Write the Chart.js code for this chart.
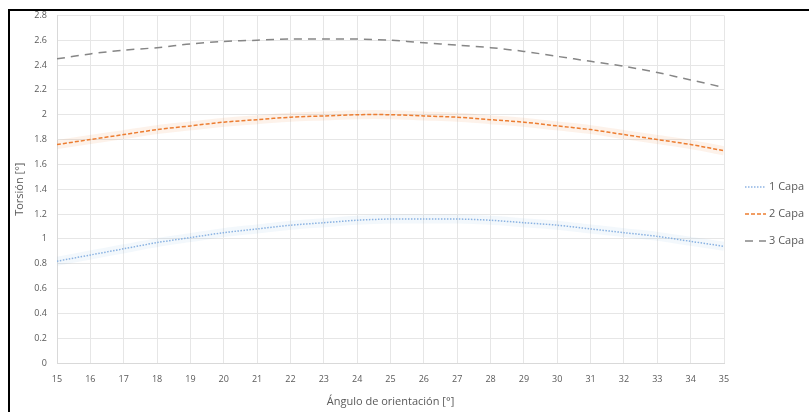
<!DOCTYPE html>
<html>
<head>
<meta charset="utf-8">
<script src="https://cdn.jsdelivr.net/npm/chart.js@4.4.1/dist/chart.umd.min.js"></script>
<style>
  html, body { margin: 0; padding: 0; background: #fff; overflow: hidden; }
  #wrap { position: relative; width: 809px; height: 412px; }
  #frame {
    position: absolute; left: 8px; top: 9px; width: 820px; height: 420px;
    border-left: 2px solid #000; border-top: 2px solid #000; pointer-events: none;
  }
</style>
</head>
<body>
<div id="wrap">
  <canvas id="torsionChart" width="809" height="412"></canvas>
  <div id="frame"></div>
</div>
<script>
// angle of orientation [deg]
const angles = [15, 16, 17, 18, 19, 20, 21, 22, 23, 24, 25, 26, 27, 28, 29, 30, 31, 32, 33, 34, 35];

// torsion [deg] per number of layers
const capa1 = [0.82, 0.87, 0.92, 0.97, 1.01, 1.05, 1.08, 1.11, 1.13, 1.15, 1.16, 1.16, 1.16, 1.15, 1.13, 1.11, 1.08, 1.05, 1.02, 0.98, 0.94];
const capa2 = [1.76, 1.80, 1.84, 1.88, 1.91, 1.94, 1.96, 1.98, 1.99, 2.00, 2.00, 1.99, 1.98, 1.96, 1.94, 1.91, 1.88, 1.84, 1.80, 1.76, 1.71];
const capa3 = [2.45, 2.49, 2.52, 2.54, 2.57, 2.59, 2.60, 2.61, 2.61, 2.61, 2.60, 2.58, 2.56, 2.54, 2.51, 2.47, 2.43, 2.39, 2.34, 2.28, 2.22];

const seriesLabels = ['1 Capa', '2 Capa', '3 Capa'];

const toPoints = (vals) => vals.map((v, i) => ({ x: angles[i], y: v }));

const textColor = '#595959';
const gridColor = '#e6e6e6';

// legend drawn on the right, next to the plot
const sideLegend = {
  id: 'sideLegend',
  afterDraw(chart) {
    const ctx = chart.ctx;
    const area = chart.chartArea;
    const items = chart.data.datasets.filter(d => !d.glow);
    const x0 = area.right + 21;
    const yMid = 214;
    ctx.save();
    ctx.font = '11px "Open Sans", sans-serif';
    ctx.textBaseline = 'middle';
    items.forEach((d, i) => {
      const y = yMid + (i - 1) * 27;
      ctx.strokeStyle = d.borderColor;
      ctx.lineWidth = d.borderWidth;
      ctx.setLineDash(d.borderDash || []);
      ctx.beginPath();
      ctx.moveTo(x0, y);
      ctx.lineTo(x0 + 21, y);
      ctx.stroke();
      ctx.setLineDash([]);
      ctx.fillStyle = textColor;
      ctx.fillText(d.label, x0 + 24, y);
    });
    ctx.restore();
  }
};

const ctx = document.getElementById('torsionChart').getContext('2d');

new Chart(ctx, {
  type: 'line',
  data: {
    datasets: [
      {
        label: 'glow1', glow: true,
        data: toPoints(capa1),
        borderColor: 'rgba(91, 155, 213, 0.07)',
        borderWidth: 9,
        pointRadius: 0,
        tension: 0.3,
      },
      {
        label: 'glow2', glow: true,
        data: toPoints(capa2),
        borderColor: 'rgba(237, 125, 49, 0.10)',
        borderWidth: 9,
        pointRadius: 0,
        tension: 0.3,
      },
      {
        label: seriesLabels[0],
        data: toPoints(capa1),
        borderColor: '#8eb4e3',
        borderWidth: 1.5,
        borderDash: [1.5, 1.5],
        pointRadius: 0,
        tension: 0.3,
      },
      {
        label: seriesLabels[1],
        data: toPoints(capa2),
        borderColor: '#ed7d31',
        borderWidth: 1.5,
        borderDash: [4, 2],
        pointRadius: 0,
        tension: 0.3,
      },
      {
        label: seriesLabels[2],
        data: toPoints(capa3),
        borderColor: '#868686',
        borderWidth: 1.5,
        borderDash: [8, 6],
        pointRadius: 0,
        tension: 0.3,
      },
    ]
  },
  options: {
    responsive: false,
    animation: false,
    layout: {
      padding: { top: 15, right: 85, left: 9, bottom: 0 }
    },
    scales: {
      x: {
        type: 'linear',
        min: 15,
        max: 35,
        ticks: {
          stepSize: 1,
          padding: 11,
          color: textColor,
          font: { size: 9, family: 'Open Sans' },
        },
        grid: { color: gridColor, drawTicks: false },
        border: { color: '#d9d9d9' },
        title: {
          display: true,
          text: 'Ángulo de orientación [°]',
          color: textColor,
          font: { size: 11, family: 'Open Sans' },
          padding: { top: 0 },
        },
        afterFit: (scale) => { scale.height = 49; },
      },
      y: {
        min: 0,
        max: 2.8,
        ticks: {
          stepSize: 0.2,
          padding: 10,
          color: textColor,
          font: { size: 9, family: 'Open Sans' },
          callback: (v) => String(Number(v.toFixed(1))),
        },
        grid: { color: gridColor, drawTicks: false },
        border: { color: '#d9d9d9' },
        title: {
          display: true,
          text: 'Torsión [°]',
          color: textColor,
          font: { size: 11, family: 'Open Sans' },
          padding: { bottom: 0 },
        },
        afterFit: (scale) => { scale.width = 48; },
      }
    },
    plugins: {
      legend: { display: false },
      tooltip: { enabled: false },
    },
  },
  plugins: [sideLegend]
});
</script>
</body>
</html>
